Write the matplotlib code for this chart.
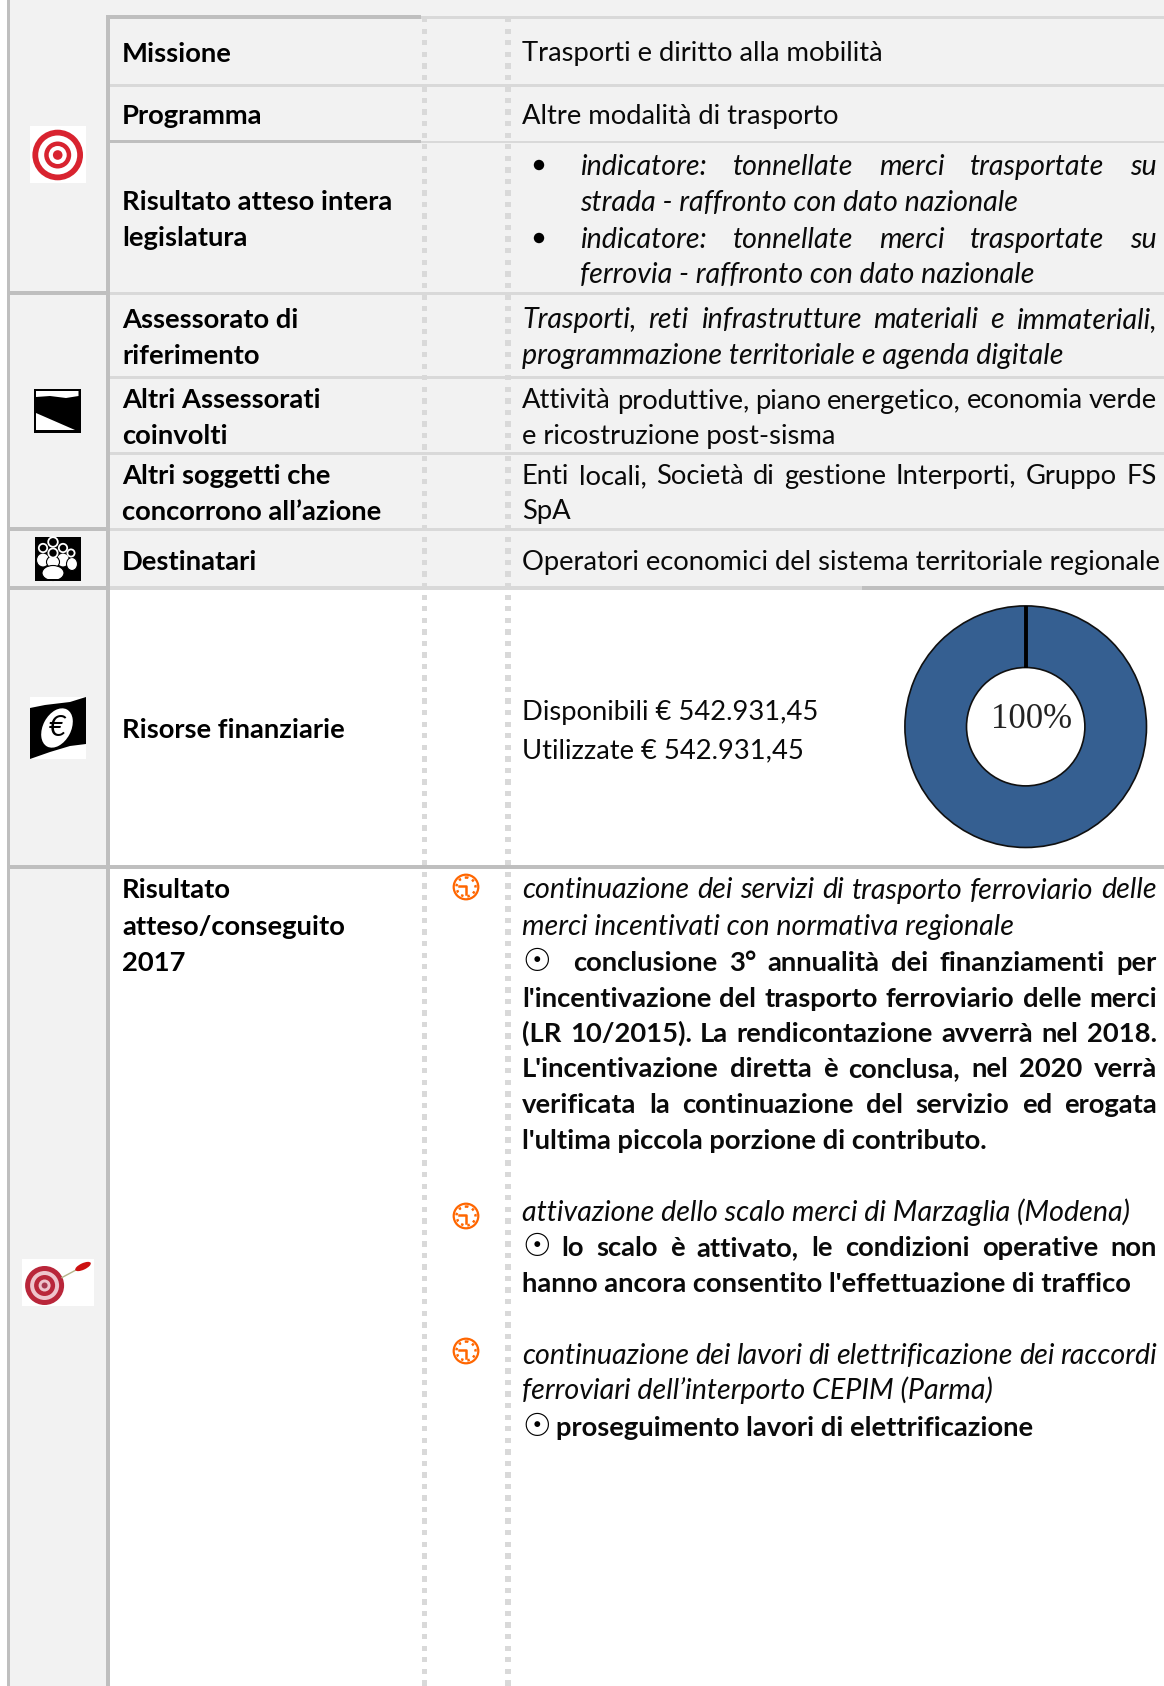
import matplotlib
matplotlib.use("Agg")
import matplotlib.pyplot as plt
from matplotlib.patches import Rectangle, Circle, Ellipse, Polygon

plt.rcParams["font.family"] = ["Lato", "DejaVu Sans"]

W, H = 1164, 1686
FS = 19.7
FS_ITALIC = 20.6
RIGHT = 1157
BASE = 1

# (text, baseline)
left_labels = [
    ("Missione", 60.5), ("Programma", 123), ("Risultato atteso intera", 209), ("legislatura", 245),
    ("Assessorato di", 327), ("riferimento", 363), ("Altri Assessorati", 407.5), ("coinvolti", 443),
    ("Altri soggetti che", 483), ("concorrono all’azione", 518.5), ("Destinatari", 569),
    ("Risorse finanziarie", 737.5), ("Risultato", 897.5), ("atteso/conseguito", 934), ("2017", 970),
]

# (text, x, baseline, style, justified)
right_text = [
    ("Trasporti e diritto alla mobilità", 522, 60.5, "n", False),
    ("Altre modalità di trasporto", 522, 123, "n", False),
    ("indicatore: tonnellate merci trasportate su", 580.5, 174, "i", True),
    ("strada - raffronto con dato nazionale", 580.5, 209.5, "i", False),
    ("indicatore: tonnellate merci trasportate su", 580.5, 247, "i", True),
    ("ferrovia - raffronto con dato nazionale", 580.5, 282.5, "i", False),
    ("Trasporti, reti infrastrutture materiali e immateriali,", 522, 327, "i", True),
    ("programmazione territoriale e agenda digitale", 522, 363, "i", False),
    ("Attività produttive, piano energetico, economia verde", 522, 407.5, "n", True),
    ("e ricostruzione post-sisma", 522, 443, "n", False),
    ("Enti locali, Società di gestione Interporti, Gruppo FS", 522, 483, "n", True),
    ("SpA", 522, 518.5, "n", False),
    ("Operatori economici del sistema territoriale regionale", 522, 569, "n", False),
    ("Disponibili € 542.931,45", 522, 719, "n", False),
    ("Utilizzate € 542.931,45", 522, 757.5, "n", False),
    ("continuazione dei servizi di trasporto ferroviario delle", 522, 897.5, "i", True),
    ("merci incentivati con normativa regionale", 522, 934, "i", False),
    ("conclusione 3° annualità dei finanziamenti per", 573, 970, "b", True),
    ("l'incentivazione del trasporto ferroviario delle merci", 522, 1006, "b", True),
    ("(LR 10/2015). La rendicontazione avverrà nel 2018.", 522, 1041, "b", True),
    ("L'incentivazione diretta è conclusa, nel 2020 verrà", 522, 1076, "b", True),
    ("verificata la continuazione del servizio ed erogata", 522, 1112, "b", True),
    ("l'ultima piccola porzione di contributo.", 522, 1148, "b", False),
    ("attivazione dello scalo merci di Marzaglia (Modena)", 522, 1220, "i", False),
    ("lo scalo è attivato, le condizioni operative non", 561, 1255, "b", True),
    ("hanno ancora consentito l'effettuazione di traffico", 522, 1291, "b", False),
    ("continuazione dei lavori di elettrificazione dei raccordi", 522, 1363, "i", True),
    ("ferroviari dell’interporto CEPIM (Parma)", 522, 1398, "i", False),
    ("proseguimento lavori di elettrificazione", 556, 1435, "b", False),
]

circle_mark_y = [970, 1255, 1435]
bullet_y = [165, 238]
clock_y = [887, 1216, 1351]

donut_values = [100]
donut_label = "100%"

GREY_BG = "#f2f2f2"
LINE = "#d9d9d9"
DARK = "#bfbfbf"

fig = plt.figure(figsize=(W / 100, H / 100), dpi=100)
ax = fig.add_axes([0, 0, 1, 1])
ax.set_xlim(0, W)
ax.set_ylim(H, 0)
ax.axis("off")
renderer = fig.canvas.get_renderer()


def box(x0, y0, x1, y1, color, z=1):
    ax.add_patch(Rectangle((x0, y0), x1 - x0, y1 - y0, fc=color, ec="none", zorder=z))


# backgrounds
box(7, 0, W, 586, GREY_BG)
box(7, 586, 107, H, GREY_BG)

# dotted column rules
for x in (421.5, 505):
    y = 17
    while y < H:
        box(x, y, x + 5.7, y + 5.4, LINE, 2)
        y += 11.55

# horizontal rules
box(107, 16, W, 18.5, LINE, 3)
box(107, 15, 421, 19, DARK, 3)
box(110, 83.5, W, 86.5, LINE, 3)
box(110, 141, W, 143, LINE, 3)
box(110, 140, 421, 143, DARK, 3)
box(10, 291, 107, 295, DARK, 3)
box(110, 291.5, W, 294.5, LINE, 3)
box(110, 376, W, 379, LINE, 3)
box(110, 451.5, W, 454.5, LINE, 3)
box(10, 527, 107, 531, DARK, 3)
box(110, 527.5, W, 530.5, LINE, 3)
box(10, 586, 107, 590, DARK, 3)
box(110, 586, W, 590, LINE, 3)
box(862, 586, W, 590, DARK, 3)
box(10, 865, W, 869, DARK, 3)
box(7, 0, 10, H, DARK, 4)
box(106, 15, 110, H, DARK, 4)

STYLES = {"n": dict(fontsize=FS), "i": dict(style="italic", fontsize=FS_ITALIC), "b": dict(weight="bold", fontsize=FS)}

for label, y in left_labels:
    ax.text(122, y + BASE, label, fontsize=FS, weight="bold", va="baseline", color="black", zorder=5)


def justified(text, x, y, style):
    words = text.split(" ")
    kw = STYLES[style]
    items = [ax.text(0, y, w, va="baseline", color="#0a0a0a", zorder=5, **kw) for w in words]
    widths = [t.get_window_extent(renderer).width for t in items]
    gap = (RIGHT - x - sum(widths)) / (len(words) - 1)
    for t, w in zip(items, widths):
        t.set_x(x)
        x += w + gap


for text, x, y, style, just in right_text:
    if just:
        justified(text, x, y + BASE, style)
    else:
        ax.text(x, y + BASE, text, va="baseline", color="#0a0a0a", zorder=5, **STYLES[style])

for y in circle_mark_y:
    ax.text(522, y + BASE, "☉", fontsize=23, family="DejaVu Sans", va="baseline", color="black", zorder=5)

for y in bullet_y:
    ax.add_patch(Circle((539, y), 5.2, fc="black", ec="none", zorder=5))

# clocks
ORANGE = "#ff6600"
for y in clock_y:
    ax.add_patch(Circle((466, y), 12.3, fc="white", ec=ORANGE, lw=1.6, zorder=5))
    ax.add_patch(Circle((466, y), 9.5, fc="none", ec=ORANGE, lw=1.8, ls=(0, (1, 1.6)), zorder=5))
    ax.plot([466, 466, 459], [y + 7, y - 1, y - 1], color=ORANGE, lw=1.8, zorder=6)

# target icon
box(30, 126, 86, 182.5, "white", 5)
for r, c in ((25.3, "#d8232f"), (19.5, "white"), (13.5, "#d8232f"), (9, "white"), (4.8, "#d8232f")):
    ax.add_patch(Circle((57.7, 155), r, fc=c, ec="none", zorder=6))

# regional emblem icon
box(34, 389, 80.5, 432.5, "black", 5)
ax.add_patch(Polygon([(36, 391), (78.5, 391), (78.5, 396), (66, 398), (50, 396), (36, 397)], fc="white", ec="none", zorder=6))
ax.add_patch(Polygon([(36, 413), (75, 430), (36, 430)], fc="white", ec="none", zorder=6))

# people icon
box(35, 536.5, 81, 580.5, "black", 5)
for cx, cy, w, h in ((43, 560, 13, 14), (63, 560, 13, 14), (72, 564, 11, 13), (53, 562, 13, 12)):
    ax.add_patch(Ellipse((cx, cy), w, h, fc="white", ec="black", lw=0.8, zorder=6))
for cx, cy, r in ((53, 542, 4.8), (43, 548, 4.2), (63, 548, 4.2), (71, 553, 3.6), (53, 553, 4.6)):
    ax.add_patch(Circle((cx, cy), r, fc="black", ec="white", lw=1.3, zorder=7))
ax.add_patch(Ellipse((53, 573), 22, 15, fc="white", ec="black", lw=0.8, zorder=8))
box(35, 578.5, 81, 580.5, "black", 9)

# euro icon
box(30, 697, 86, 759, "white", 5)
ax.add_patch(Polygon([(30, 708), (45, 705), (70, 702), (86, 697), (86, 744), (70, 746), (50, 752), (30, 759)],
                     fc="black", ec="none", zorder=6))
ax.add_patch(Ellipse((57, 728), 28, 42, angle=28, fc="white", ec="none", zorder=7))
ax.text(57, 728, "€", fontsize=21, style="italic", ha="center", va="center", color="black", zorder=8)

# dart icon
box(22, 1259, 94, 1306, "white", 5)
for r, c in ((19.5, "#b9263a"), (14.5, "#eec4cc"), (10.5, "#b9263a"), (6, "#eec4cc"), (3, "#a83a50")):
    ax.add_patch(Circle((44.6, 1285.5), r, fc=c, ec="none", zorder=6))
ax.plot([62, 76], [1277.5, 1270], color="#b5b58a", lw=1, zorder=6)
ax.add_patch(Ellipse((83, 1266.5), 17, 6.5, angle=-25, fc="#cc1111", ec="none", zorder=6))

# donut
cx, cy, r_out = 1025.7, 726.7, 122
pie_ax = fig.add_axes([(cx - r_out) / W, 1 - (cy + r_out) / H, 2 * r_out / W, 2 * r_out / H])
pie_ax.pie(donut_values, radius=1, startangle=90, colors=["#355f91"],
           wedgeprops=dict(width=0.51, edgecolor="#101010", linewidth=1.2))
pie_ax.plot([0, 0], [0.49, 1], color="black", lw=2.8, solid_capstyle="butt")
pie_ax.set_xlim(-1.01, 1.01)
pie_ax.set_ylim(-1.01, 1.01)
pie_ax.text(0.05, 0.06, donut_label, fontsize=25, family="Liberation Serif", ha="center", va="center", color="#222222")

fig.savefig("out.png", dpi=100)
